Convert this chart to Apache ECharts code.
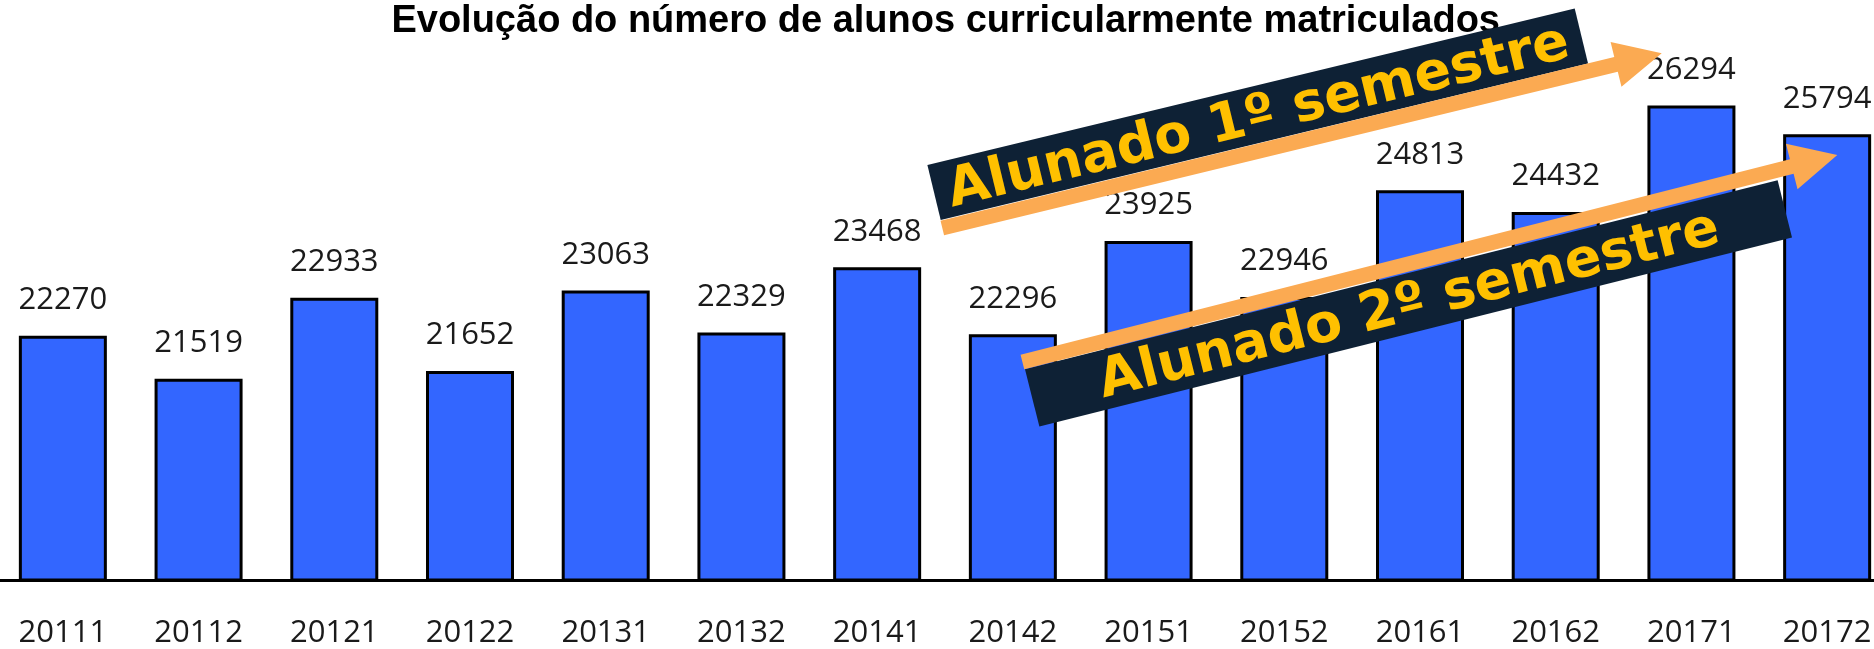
<!DOCTYPE html>
<html>
<head>
<meta charset="utf-8">
<script src="https://cdn.jsdelivr.net/npm/echarts@6/dist/echarts.min.js"></script>
<style>
html,body{margin:0;padding:0;background:#fff;overflow:hidden;width:1874px;height:649px;}
#c{width:1900px;height:649px;margin-left:-5px;}
</style>
</head>
<body>
<div id="c"></div>
<script>
const titleText = 'Evolução do número de alunos curricularmente matriculados';
const categories = ['20111','20112','20121','20122','20131','20132','20141','20142','20151','20152','20161','20162','20171','20172'];
const alunos = [22270,21519,22933,21652,23063,22329,23468,22296,23925,22946,24813,24432,26294,25794];
const annotation1 = 'Alunado 1º semestre';
const annotation2 = 'Alunado 2º semestre';

const OX = 5; // container is shifted 5px left of the viewport
function arrowPoints(sx, sy, tx, ty, sw, hw, hl) {
  sx += OX; tx += OX;
  const dx = tx - sx, dy = ty - sy, L = Math.hypot(dx, dy);
  const ux = dx / L, uy = dy / L, nx = -uy, ny = ux;
  const bx = tx - ux * hl, by = ty - uy * hl;
  return [
    [sx + nx * sw / 2, sy + ny * sw / 2],
    [bx + nx * sw / 2, by + ny * sw / 2],
    [bx + nx * hw / 2, by + ny * hw / 2],
    [tx, ty],
    [bx - nx * hw / 2, by - ny * hw / 2],
    [bx - nx * sw / 2, by - ny * sw / 2],
    [sx - nx * sw / 2, sy - ny * sw / 2]
  ];
}
function banner(x, y, w, h, deg, text, dy) {
  return {
    type: 'group', x: x + OX, y: y, rotation: deg * Math.PI / 180, z: 100,
    children: [
      {type: 'rect', shape: {x: 0, y: 0, width: w, height: h}, style: {fill: '#0E2135'}, z: 100},
      {type: 'text', x: w / 2, y: h / 2 + dy, z: 101,
       style: {text: text, fill: '#FFC000', font: 'bold 54px "DejaVu Sans"',
               textAlign: 'center', textVerticalAlign: 'middle', align: 'center', verticalAlign: 'middle'}}
    ]
  };
}
const orange = '#FBAA52';

const chart = echarts.init(document.getElementById('c'));
chart.setOption({
  animation: false,
  backgroundColor: '#fff',
  title: {
    text: titleText, left: 940.7 + OX, textAlign: 'center', top: -2,
    textStyle: {fontFamily: '"Liberation Sans", Arial', fontWeight: 'bold', fontSize: 38, color: '#000'}
  },
  grid: {left: 0, right: 0, top: 8, bottom: 66, containLabel: false},
  xAxis: {
    type: 'category', data: categories,
    axisLine: {lineStyle: {color: '#000', width: 3}},
    axisTick: {show: false},
    axisLabel: {margin: 38, fontFamily: '"Open Sans"', fontSize: 31, color: '#1a1a1a', interval: 0}
  },
  yAxis: {
    type: 'value', min: 18000, max: 28000, show: false,
    splitLine: {show: false}
  },
  series: [{
    type: 'bar', data: alunos, barWidth: 88,
    itemStyle: {color: '#3366FF', borderColor: '#000', borderWidth: 3},
    label: {show: true, position: 'top', distance: 20, fontFamily: '"Open Sans"', fontSize: 31, color: '#1a1a1a'}
  }],
  graphic: [
    banner(927.4, 165, 666, 56.6, 13.6, annotation1, 4),
    banner(1025, 369.3, 776, 59, 14.1, annotation2, 3),
    {type: 'polygon', z: 110, shape: {points: arrowPoints(942.3, 228, 1661.7, 53.3, 15, 46, 47)}, style: {fill: orange}},
    {type: 'polygon', z: 110, shape: {points: arrowPoints(1022.4, 362, 1837.3, 155, 15, 47, 47)}, style: {fill: orange}}
  ]
});
</script>
</body>
</html>
